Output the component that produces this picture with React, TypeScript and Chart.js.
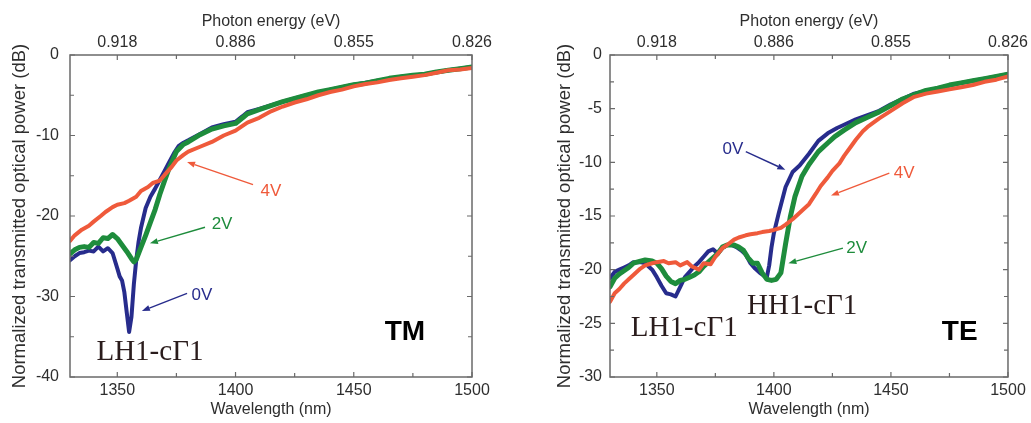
import React, { useEffect, useRef } from 'react';
import { Chart, registerables } from 'chart.js';

Chart.register(...registerables);

// ---------- shared axis data ----------
const wavelengthTicks = [1350, 1375, 1400, 1425, 1450, 1475, 1500];
const wavelengthLabels = [1350, 1400, 1450, 1500];
const photonEnergyLabels = ['0.918', '0.886', '0.855', '0.826'];

const tmYTicks = [-40, -35, -30, -25, -20, -15, -10, -5, 0];
const tmYLabels = [-40, -30, -20, -10, 0];
const teYTicks = [-30, -27.5, -25, -22.5, -20, -17.5, -15, -12.5, -10, -7.5, -5, -2.5, 0];
const teYLabels = [-30, -25, -20, -15, -10, -5, 0];

// ---------- TM panel data ----------
const tmWl4V = [1330, 1332, 1335, 1338, 1340, 1343, 1345, 1348, 1350, 1353, 1355, 1358, 1360, 1363, 1365, 1368, 1370, 1373, 1375, 1378, 1380, 1385, 1390, 1395, 1400, 1405, 1410, 1415, 1420, 1425, 1430, 1435, 1440, 1445, 1450, 1455, 1460, 1465, 1470, 1475, 1480, 1485, 1490, 1495, 1500];
const tmDb4V = [-23.1, -22.4, -21.7, -21.2, -20.7, -20.0, -19.5, -18.9, -18.6, -18.4, -18.1, -17.6, -16.9, -16.4, -15.9, -15.6, -14.9, -13.9, -13.1, -12.4, -12.0, -11.4, -10.8, -10.0, -9.4, -8.4, -7.8, -7.0, -6.4, -5.9, -5.5, -5.0, -4.6, -4.3, -3.9, -3.6, -3.4, -3.1, -2.9, -2.7, -2.5, -2.2, -1.9, -1.8, -1.6];

const tmWl2V = [1330, 1332, 1334, 1336, 1338, 1340, 1342, 1344, 1346, 1348, 1350, 1352, 1354, 1356, 1357, 1358, 1360, 1362, 1364, 1366, 1368, 1370, 1372, 1375, 1378, 1380, 1385, 1390, 1395, 1400, 1403, 1405, 1410, 1415, 1420, 1425, 1430, 1435, 1440, 1445, 1450, 1455, 1460, 1465, 1470, 1475, 1480, 1485, 1490, 1495, 1500];
const tmDb2V = [-24.7, -24.2, -23.9, -23.8, -23.9, -23.3, -23.4, -22.7, -22.8, -22.3, -22.8, -23.6, -24.4, -25.3, -25.7, -25.4, -23.9, -22.4, -20.8, -19.2, -17.3, -15.6, -14.0, -12.0, -11.1, -10.8, -9.9, -9.2, -8.8, -8.5, -7.8, -7.3, -6.8, -6.3, -5.8, -5.4, -5.0, -4.6, -4.3, -4.0, -3.7, -3.5, -3.2, -2.9, -2.7, -2.5, -2.4, -2.1, -1.9, -1.7, -1.5];

const tmWl0V = [1330, 1332, 1334, 1336, 1338, 1340, 1342, 1344, 1346, 1348, 1350, 1351, 1352, 1353, 1354, 1355, 1356, 1357, 1358, 1359, 1360, 1362, 1364, 1366, 1368, 1370, 1372, 1374, 1376, 1378, 1380, 1385, 1390, 1395, 1400, 1403, 1405, 1410, 1420, 1430, 1440, 1450, 1460, 1470, 1480, 1490, 1500];
const tmDb0V = [-25.5, -25.0, -24.6, -24.5, -24.3, -24.4, -23.8, -24.4, -24.0, -24.6, -26.5, -27.5, -28.0, -29.5, -32.0, -34.4, -32.5, -28.5, -25.5, -23.2, -21.5, -19.0, -17.6, -16.6, -15.5, -14.4, -13.3, -12.2, -11.3, -10.9, -10.6, -9.8, -9.0, -8.6, -8.3, -7.6, -7.1, -6.7, -5.8, -5.0, -4.3, -3.7, -3.2, -2.7, -2.4, -1.9, -1.5];

// ---------- TE panel data ----------
const teWl4V = [1330, 1332, 1334, 1336, 1338, 1340, 1343, 1345, 1348, 1350, 1353, 1355, 1358, 1360, 1363, 1365, 1368, 1370, 1373, 1375, 1378, 1380, 1383, 1385, 1388, 1390, 1393, 1395, 1398, 1400, 1403, 1405, 1408, 1410, 1413, 1415, 1418, 1420, 1423, 1425, 1428, 1430, 1433, 1435, 1438, 1440, 1445, 1450, 1455, 1460, 1465, 1470, 1475, 1480, 1485, 1490, 1495, 1500];
const teDb4V = [-23.0, -22.2, -21.8, -21.3, -20.9, -20.5, -19.9, -19.6, -19.4, -19.3, -19.2, -19.4, -19.3, -19.6, -19.3, -19.7, -20.0, -19.4, -19.5, -18.8, -18.0, -17.7, -17.2, -17.0, -16.8, -16.7, -16.6, -16.5, -16.4, -16.3, -16.1, -15.8, -15.3, -14.9, -14.3, -13.9, -12.9, -12.2, -11.4, -10.8, -10.1, -9.4, -8.5, -7.9, -7.1, -6.7, -5.9, -5.2, -4.5, -3.9, -3.6, -3.4, -3.2, -3.0, -2.8, -2.5, -2.3, -2.0];

const teWl2V = [1330, 1332, 1334, 1336, 1338, 1340, 1343, 1345, 1348, 1350, 1352, 1354, 1356, 1358, 1360, 1362, 1364, 1366, 1368, 1370, 1372, 1374, 1376, 1378, 1380, 1383, 1385, 1387, 1389, 1391, 1393, 1395, 1397, 1399, 1401, 1403, 1405, 1407, 1409, 1412, 1415, 1419, 1423, 1426, 1430, 1435, 1440, 1445, 1450, 1455, 1460, 1465, 1470, 1475, 1480, 1485, 1490, 1495, 1500];
const teDb2V = [-21.6, -20.8, -20.4, -20.1, -19.8, -19.4, -19.2, -19.1, -19.2, -19.4, -19.9, -20.6, -21.1, -21.3, -21.0, -20.9, -20.7, -20.5, -20.2, -19.7, -19.3, -18.9, -18.5, -17.9, -17.7, -17.7, -17.9, -18.2, -18.9, -19.4, -19.4, -20.3, -20.9, -21.0, -20.9, -20.3, -17.6, -15.1, -13.2, -11.3, -10.2, -9.0, -8.2, -7.6, -7.0, -6.3, -5.8, -5.3, -4.7, -4.1, -3.7, -3.3, -3.1, -2.8, -2.6, -2.4, -2.2, -2.0, -1.8];

const teWl0V = [1330, 1332, 1334, 1336, 1338, 1340, 1343, 1345, 1348, 1350, 1352, 1354, 1356, 1358, 1360, 1362, 1364, 1366, 1368, 1370, 1372, 1374, 1376, 1378, 1380, 1382, 1384, 1386, 1388, 1390, 1392, 1394, 1396, 1397, 1398, 1399, 1400, 1402, 1405, 1408, 1411, 1415, 1419, 1423, 1427, 1430, 1435, 1440, 1445, 1450, 1460, 1470, 1480, 1490, 1500];
const teDb0V = [-20.8, -20.2, -20.0, -19.8, -19.6, -19.3, -19.3, -19.4, -20.0, -20.7, -21.5, -22.2, -22.3, -22.5, -21.6, -20.7, -20.2, -19.7, -19.3, -18.8, -18.3, -18.1, -18.5, -18.0, -17.7, -17.7, -17.9, -18.2, -18.6, -19.4, -19.9, -20.3, -20.6, -20.7, -19.6, -17.9, -16.6, -14.8, -12.3, -10.9, -10.3, -9.2, -8.0, -7.3, -6.8, -6.5, -6.0, -5.6, -5.2, -4.6, -3.6, -3.1, -2.6, -2.2, -1.8];

// ---------- styles ----------
const FONT = "'Liberation Sans', Arial, Helvetica, sans-serif";
const SERIF = "'Liberation Serif', 'Times New Roman', serif";
const TEXT = '#2e2e2e';
const FRAME = '#6a6a6a';
const BLUE = '#272c8c';
const GREEN = '#1e8c3c';
const RED = '#ef5a3b';
const LABEL_DARK = '#2a1c1c';

type Note = { kind: 'arrow'; text: string; color: string; tx: number; ty: number; x1: number; y1: number; x2: number; y2: number }
  | { kind: 'text'; text: string; color: string; tx: number; ty: number; font: string };

const tmNotes: Note[] = [
  { kind: 'arrow', text: '4V', color: RED, tx: 1415.0, ty: -16.9, x1: 1407.4, y1: -16.1, x2: 1379.5, y2: -13.3 },
  { kind: 'arrow', text: '2V', color: GREEN, tx: 1394.3, ty: -21.0, x1: 1387.1, y1: -21.4, x2: 1363.8, y2: -23.4 },
  { kind: 'arrow', text: '0V', color: BLUE, tx: 1385.8, ty: -29.8, x1: 1379.5, y1: -29.6, x2: 1360.4, y2: -31.8 },
  { kind: 'text', text: 'LH1-cΓ1', color: LABEL_DARK, tx: 1363.8, ty: -36.9, font: `29px ${SERIF}` },
  { kind: 'text', text: 'TM', color: '#000', tx: 1471.6, ty: -34.4, font: `bold 28px ${FONT}` },
];

const teNotes: Note[] = [
  { kind: 'arrow', text: '0V', color: BLUE, tx: 1382.5, ty: -8.8, x1: 1388.0, y1: -9.0, x2: 1404.9, y2: -10.7 },
  { kind: 'arrow', text: '4V', color: RED, tx: 1455.7, ty: -11.0, x1: 1449.3, y1: -11.0, x2: 1424.4, y2: -13.1 },
  { kind: 'arrow', text: '2V', color: GREEN, tx: 1435.4, ty: -18.0, x1: 1429.5, y1: -18.0, x2: 1406.2, y2: -19.4 },
  { kind: 'text', text: 'LH1-cΓ1', color: LABEL_DARK, tx: 1361.7, ty: -25.5, font: `29px ${SERIF}` },
  { kind: 'text', text: 'HH1-cΓ1', color: LABEL_DARK, tx: 1412.1, ty: -23.4, font: `29px ${SERIF}` },
  { kind: 'text', text: 'TE', color: '#000', tx: 1479.4, ty: -25.8, font: `bold 28px ${FONT}` },
];

const framePlugin = {
  id: 'frameTicks',
  afterDatasetsDraw(chart: any) {
    const { ctx, chartArea: a, scales } = chart;
    ctx.save();
    ctx.strokeStyle = FRAME;
    ctx.lineWidth = 1.2;
    const xs = scales.x;
    xs.ticks.forEach((t: any) => {
      const px = xs.getPixelForValue(t.value);
      const len = wavelengthLabels.includes(t.value) ? 5 : 4;
      ctx.beginPath();
      ctx.moveTo(px, a.bottom); ctx.lineTo(px, a.bottom - len);
      ctx.moveTo(px, a.top); ctx.lineTo(px, a.top + len);
      ctx.stroke();
    });
    const ys = scales.y;
    const majors: number[] = chart.options.plugins.frameTicks.majors;
    ys.ticks.forEach((t: any) => {
      const py = ys.getPixelForValue(t.value);
      const len = majors.includes(t.value) ? 5 : 4;
      ctx.beginPath();
      ctx.moveTo(a.left, py); ctx.lineTo(a.left + len, py);
      ctx.moveTo(a.right, py); ctx.lineTo(a.right - len, py);
      ctx.stroke();
    });
    ctx.lineWidth = 1.5;
    ctx.strokeRect(a.left, a.top, a.right - a.left, a.bottom - a.top);
    ctx.restore();
  },
};

const notesPlugin = {
  id: 'notes',
  afterDraw(chart: any) {
    const notes: Note[] = chart.options.plugins.notes.items;
    const { ctx, scales } = chart;
    const X = (v: number) => scales.x.getPixelForValue(v);
    const Y = (v: number) => scales.y.getPixelForValue(v);
    ctx.save();
    notes.forEach((n) => {
      ctx.fillStyle = n.color;
      ctx.textAlign = 'center';
      ctx.textBaseline = 'middle';
      if (n.kind === 'text') {
        ctx.font = n.font;
        ctx.fillText(n.text, X(n.tx), Y(n.ty));
        return;
      }
      ctx.font = `17px ${FONT}`;
      ctx.fillText(n.text, X(n.tx), Y(n.ty));
      const x1 = X(n.x1), y1 = Y(n.y1), x2 = X(n.x2), y2 = Y(n.y2);
      const ang = Math.atan2(y2 - y1, x2 - x1);
      const hl = 8, hw = 3;
      ctx.strokeStyle = n.color;
      ctx.lineWidth = 1.4;
      ctx.beginPath();
      ctx.moveTo(x1, y1);
      ctx.lineTo(x2 - hl * Math.cos(ang), y2 - hl * Math.sin(ang));
      ctx.stroke();
      ctx.beginPath();
      ctx.moveTo(x2, y2);
      ctx.lineTo(x2 - hl * Math.cos(ang) + hw * Math.sin(ang), y2 - hl * Math.sin(ang) - hw * Math.cos(ang));
      ctx.lineTo(x2 - hl * Math.cos(ang) - hw * Math.sin(ang), y2 - hl * Math.sin(ang) + hw * Math.cos(ang));
      ctx.closePath();
      ctx.fill();
    });
    ctx.restore();
  },
};

type Series = { label: string; wl: number[]; db: number[]; color: string; width: number };

type Panel = {
  series: Series[];
  yMin: number;
  yTicks: number[];
  yLabels: number[];
  yAxisWidth: number;
  yTickPad: number;
  yTitlePad: number;
  padRight: number;
  notes: Note[];
};

const tmPanel: Panel = {
  series: [
    { label: '4V', wl: tmWl4V, db: tmDb4V, color: RED, width: 4 },
    { label: '2V', wl: tmWl2V, db: tmDb2V, color: GREEN, width: 5 },
    { label: '0V', wl: tmWl0V, db: tmDb0V, color: BLUE, width: 4 },
  ],
  yMin: -40, yTicks: tmYTicks, yLabels: tmYLabels,
  yAxisWidth: 70, yTickPad: 11, yTitlePad: 9, padRight: 43, notes: tmNotes,
};

const tePanel: Panel = {
  series: [
    { label: '4V', wl: teWl4V, db: teDb4V, color: RED, width: 4 },
    { label: '2V', wl: teWl2V, db: teDb2V, color: GREEN, width: 5 },
    { label: '0V', wl: teWl0V, db: teDb0V, color: BLUE, width: 4 },
  ],
  yMin: -30, yTicks: teYTicks, yLabels: teYLabels,
  yAxisWidth: 95, yTickPad: 8, yTitlePad: 39, padRight: 19, notes: teNotes,
};

function makeConfig(p: Panel): any {
  const tickFont = { family: FONT, size: 16 };
  const noGrid = { display: false, drawTicks: false, tickLength: 0 };
  return {
    type: 'line',
    data: {
      datasets: p.series.map((s) => ({
        label: s.label,
        data: s.wl.map((x, i) => ({ x, y: s.db[i] })),
        borderColor: s.color,
        borderWidth: s.width,
        pointRadius: 0,
        tension: 0,
        borderJoinStyle: 'round',
        borderCapStyle: 'round',
        fill: false,
      })),
    },
    options: {
      animation: false,
      responsive: false,
      events: [],
      layout: { padding: { left: 0, right: p.padRight, top: 0, bottom: 0 } },
      plugins: {
        legend: { display: false },
        tooltip: { enabled: false },
        frameTicks: { majors: p.yLabels },
        notes: { items: p.notes },
      },
      scales: {
        x: {
          type: 'linear', position: 'bottom', min: 1330, max: 1500,
          grid: noGrid, border: { display: false },
          afterBuildTicks: (s: any) => { s.ticks = wavelengthTicks.map((v) => ({ value: v })); },
          ticks: {
            autoSkip: false, maxRotation: 0, padding: 4, color: TEXT, font: tickFont,
            callback: (v: number) => (wavelengthLabels.includes(v) ? String(v) : ''),
          },
          title: { display: true, text: 'Wavelength (nm)', color: TEXT, font: tickFont, padding: { top: 0, bottom: 4 } },
          afterFit: (s: any) => { s.height = 46; },
        },
        x2: {
          type: 'linear', position: 'top', min: 1330, max: 1500,
          grid: noGrid, border: { display: false },
          afterBuildTicks: (s: any) => { s.ticks = wavelengthTicks.map((v) => ({ value: v })); },
          ticks: {
            autoSkip: false, maxRotation: 0, padding: 3, color: TEXT, font: tickFont,
            callback: (v: number) => {
              const i = wavelengthLabels.indexOf(v);
              return i >= 0 ? photonEnergyLabels[i] : '';
            },
          },
          title: { display: true, text: 'Photon energy (eV)', color: TEXT, font: tickFont, padding: { top: 12, bottom: 0 } },
          afterFit: (s: any) => { s.height = 55; },
        },
        y: {
          type: 'linear', position: 'left', min: p.yMin, max: 0,
          grid: noGrid, border: { display: false },
          afterBuildTicks: (s: any) => { s.ticks = p.yTicks.map((v) => ({ value: v })); },
          ticks: {
            autoSkip: false, padding: p.yTickPad, color: TEXT, font: tickFont,
            callback: (v: number) => (p.yLabels.includes(v) ? String(v) : ''),
          },
          title: {
            display: true, text: 'Normalized transmitted optical power (dB)', color: TEXT,
            font: { family: FONT, size: 18.5 }, padding: { top: p.yTitlePad, bottom: 0 },
          },
          afterFit: (s: any) => { s.width = p.yAxisWidth; },
        },
      },
    },
    plugins: [framePlugin, notesPlugin],
  };
}

function PanelChart({ panel, left, width }: { panel: Panel; left: number; width: number }) {
  const ref = useRef<HTMLCanvasElement | null>(null);
  useEffect(() => {
    if (!ref.current) return;
    const chart = new Chart(ref.current, makeConfig(panel));
    return () => chart.destroy();
  }, [panel]);
  return (
    <canvas
      ref={ref}
      width={width}
      height={423}
      style={{ position: 'absolute', left, top: 0, width, height: 423 }}
    />
  );
}

export default function App() {
  return (
    <div style={{ position: 'fixed', left: 0, top: 0, width: 1031, height: 423, background: '#fff', overflow: 'hidden' }}>
      <PanelChart panel={tmPanel} left={0} width={515} />
      <PanelChart panel={tePanel} left={515} width={516} />
    </div>
  );
}
